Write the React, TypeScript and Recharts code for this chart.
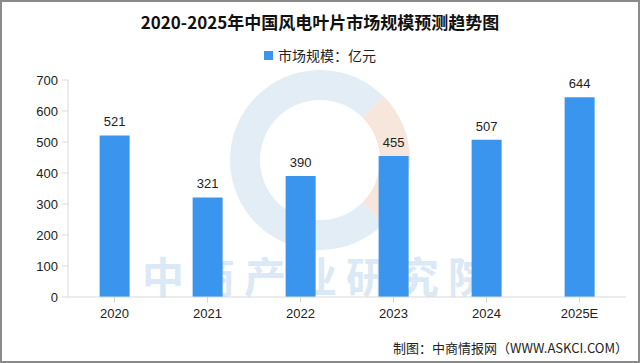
import { Bar, BarChart, LabelList, XAxis, YAxis } from "recharts";

const years = ["2020", "2021", "2022", "2023", "2024", "2025E"];
const marketSize = [521, 321, 390, 455, 507, 644];
const yTicks = [0, 100, 200, 300, 400, 500, 600, 700];

const BLUE = "#3a95ef";
const FONT = '"Liberation Sans", "Noto Sans CJK SC", sans-serif';
const CJK = '"Noto Sans CJK SC", sans-serif';

export default function App() {
  const data = years.map((y, i) => ({ year: y, value: marketSize[i] }));

  return (
    <div
      style={{
        position: "fixed",
        left: 0,
        top: 0,
        width: 640,
        height: 363,
        background: "#fff",
        border: "2px solid #8a8a8a",
        boxSizing: "border-box",
        fontFamily: FONT,
        overflow: "hidden",
      }}
    >
      {/* watermark logo + name */}
      <div
        style={{
          position: "absolute",
          left: 228,
          top: 68,
          width: 180,
          height: 180,
          borderRadius: "50%",
          border: "30px solid #e3edf6",
          borderRightColor: "#f6e6dc",
          boxSizing: "border-box",
        }}
      />
      <div
        style={{
          position: "absolute",
          left: 140,
          top: 252,
          fontSize: 42,
          lineHeight: "42px",
          fontWeight: 700,
          color: "#dbe8f5",
          letterSpacing: 9,
          fontFamily: CJK,
          whiteSpace: "nowrap",
        }}
      >
        中商产业研究院
      </div>
      <div
        style={{
          position: "absolute",
          top: 7,
          width: "100%",
          textAlign: "center",
          fontSize: 17,
          fontWeight: 700,
          color: "#111",
          fontFamily: CJK,
        }}
      >
        2020-2025年中国风电叶片市场规模预测趋势图
      </div>
      <div
        style={{
          position: "absolute",
          top: 43,
          width: "100%",
          textAlign: "center",
          fontSize: 14,
          color: "#222",
          fontFamily: CJK,
        }}
      >
        <span
          style={{
            display: "inline-block",
            width: 9,
            height: 9,
            background: BLUE,
            marginRight: 5,
            verticalAlign: "middle",
            position: "relative",
            top: -2,
          }}
        />
        市场规模：亿元
      </div>
      <div style={{ position: "absolute", left: -2, top: -2 }}>
        <BarChart
          width={640}
          height={363}
          data={data}
          margin={{ top: 80, right: 14, bottom: 36, left: 0 }}
          barCategoryGap="34%"
        >
          <XAxis
            dataKey="year"
            height={30}
            stroke="#d9d9d9"
            tickLine={{ stroke: "#d9d9d9" }}
            tick={{ fontSize: 13, fill: "#222" }}
            tickMargin={6}
          />
          <YAxis
            width={68}
            domain={[0, 700]}
            ticks={yTicks}
            stroke="#d9d9d9"
            tickLine={{ stroke: "#d9d9d9" }}
            tick={{ fontSize: 13, fill: "#222" }}
            tickMargin={4}
          />
          <Bar dataKey="value" fill={BLUE} isAnimationActive={false}>
            <LabelList
              dataKey="value"
              position="top"
              offset={9}
              style={{ fontSize: 13, fill: "#222" }}
            />
          </Bar>
        </BarChart>
      </div>
      <div
        style={{
          position: "absolute",
          right: 10,
          top: 336,
          fontSize: 13,
          color: "#222",
          fontFamily: CJK,
        }}
      >
        制图：中商情报网（WWW.ASKCI.COM）
      </div>
    </div>
  );
}
